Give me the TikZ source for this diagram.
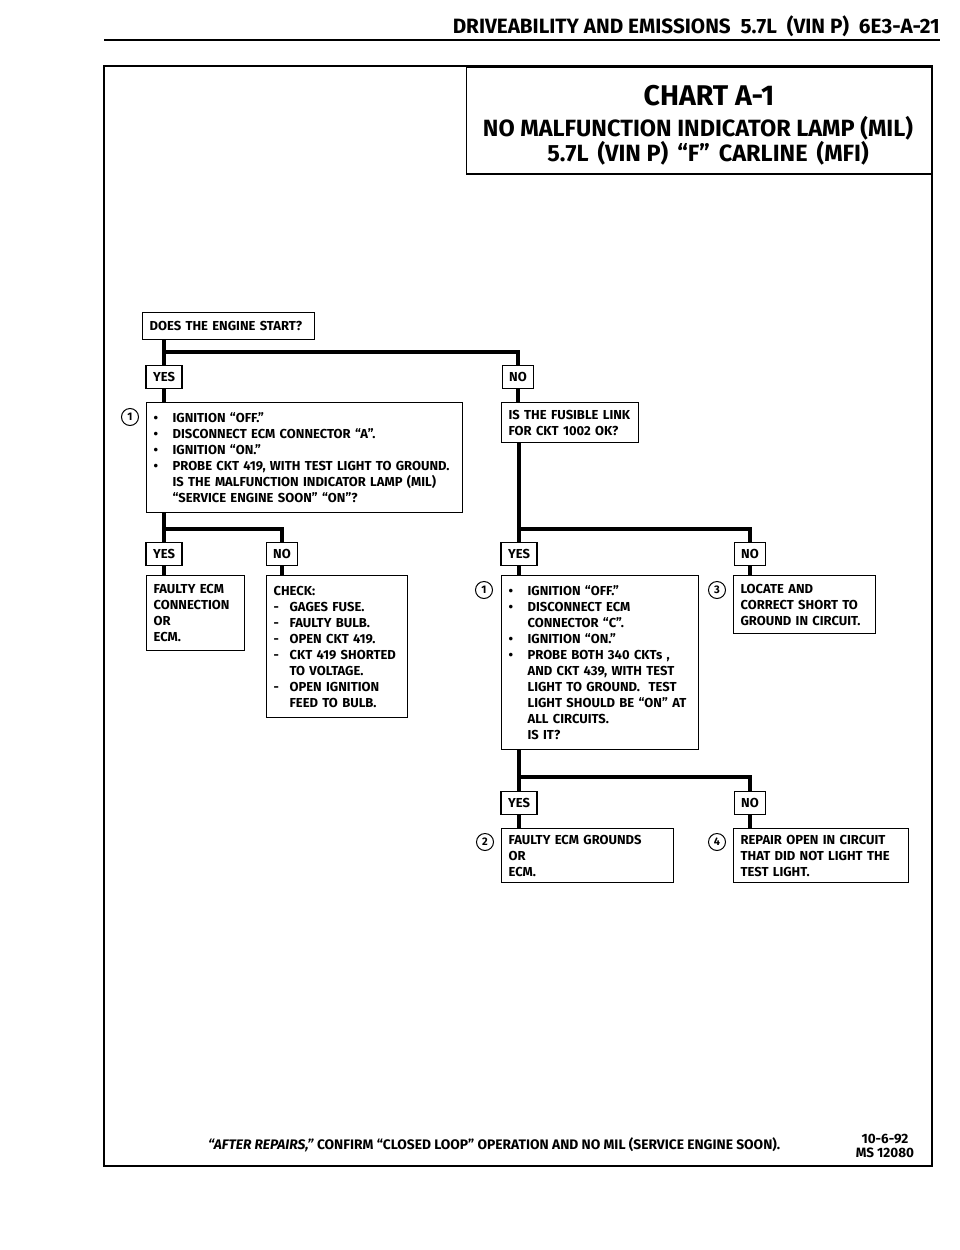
\documentclass[tikz,border=0pt]{standalone}
\usepackage{fontspec}
\setmainfont{Fira Sans}
\usetikzlibrary{positioning}

\newcommand{\bul}{\makebox[19pt][l]{\textbullet}}
\newcommand{\hang}{\hspace*{19pt}}
\newcommand{\dsh}{\makebox[16pt][l]{-}}
\newcommand{\hangd}{\hspace*{16pt}}

\begin{document}
\begin{tikzpicture}[x=1pt, y=-1pt,
        box/.style={draw, line width=1.2pt, anchor=north west, align=left, inner xsep=7pt, inner ysep=0pt, font=\fontsize{13}{16}\selectfont\bfseries},
        answer/.style={draw, line width=1.2pt, inner xsep=7pt, inner ysep=0pt, minimum height=23pt, font=\fontsize{13}{15}\selectfont\bfseries},
        num/.style={circle, draw, line width=1pt, minimum size=17pt, inner sep=0pt, font=\fontsize{11}{11}\selectfont\bfseries},
        flow/.style={line width=4pt, line join=miter}
    ]
        \useasboundingbox (0,0) rectangle (960,1250);

        % Header
        \node[anchor=base east, inner sep=0pt, font=\fontsize{20.7}{21}\selectfont\bfseries] (header) at (940,33) {DRIVEABILITY AND EMISSIONS\ \ 5.7L\ \ (VIN P)\ \ 6E3-A-21};
        \draw[line width=1.5pt] (104,40) -- (940,40);

        % Frame and title
        \draw[line width=2.5pt] (104,66) rectangle (932,1166);
        \node[draw, line width=1.5pt, anchor=north east, minimum width=465pt, minimum height=107pt] (titlebox) at (932,66) {};
        \node[anchor=base, inner sep=0pt, font=\fontsize{28.5}{29}\selectfont\bfseries] (chart) at (709,105) {CHART A-1};
        \node[anchor=base, inner sep=0pt, font=\fontsize{23.5}{24}\selectfont\bfseries] (lamp) at (698,136) {NO MALFUNCTION INDICATOR LAMP (MIL)};
        \node[anchor=base, inner sep=0pt, font=\fontsize{23.5}{24}\selectfont\bfseries] (carline) at (708,161) {5.7L\hspace{9pt}(VIN P)\hspace{9pt}“F”\hspace{9pt}CARLINE\hspace{9pt}(MFI)};

        % Start question
        \node[box, text width=158pt, minimum height=27pt] (start) at (142,312) {DOES THE ENGINE START?};
        \node[answer] (yes1) at (164,377) {YES};
        \node[answer] (no1) at (518,377) {NO};

        \node[box, text width=302pt, minimum height=110pt] (checkA) at (146,402) {\bul IGNITION “OFF.”\\
            \bul DISCONNECT ECM CONNECTOR “A”.\\
            \bul IGNITION “ON.”\\
            \bul PROBE CKT 419, WITH TEST LIGHT TO GROUND.\\
            \hang IS THE MALFUNCTION INDICATOR LAMP (MIL)\\
            \hang “SERVICE ENGINE SOON” “ON”?};
        \node[num] (n1a) at (130,417) {1};
        \node[box, text width=123pt, minimum height=40pt] (fusible) at (501,402) {IS THE FUSIBLE LINK\\FOR CKT 1002 OK?};

        % Second level, left
        \node[answer] (yes2) at (164,554) {YES};
        \node[answer] (no2) at (282,554) {NO};
        \node[box, text width=84pt, minimum height=75pt] (faultyecm) at (146,575) {FAULTY ECM\\CONNECTION\\OR\\ECM.};
        \node[box, text width=127pt, minimum height=142pt] (checklist) at (266,575) {CHECK:\\
            \dsh GAGES FUSE.\\
            \dsh FAULTY BULB.\\
            \dsh OPEN CKT 419.\\
            \dsh CKT 419 SHORTED\\
            \hangd TO VOLTAGE.\\
            \dsh OPEN IGNITION\\
            \hangd FEED TO BULB.};

        % Second level, right
        \node[answer] (yes3) at (519,554) {YES};
        \node[answer] (no3) at (750,554) {NO};
        \node[box, text width=183pt, minimum height=174pt] (checkC) at (501,575) {\bul IGNITION “OFF.”\\
            \bul DISCONNECT ECM\\
            \hang CONNECTOR “C”.\\
            \bul IGNITION “ON.”\\
            \bul PROBE BOTH 340 CKTs ,\\
            \hang AND CKT 439, WITH TEST\\
            \hang LIGHT TO GROUND.\ \ TEST\\
            \hang LIGHT SHOULD BE “ON” AT\\
            \hang ALL CIRCUITS.\\
            \hang IS IT?};
        \node[num] (n1b) at (484,590) {1};
        \node[box, text width=128pt, minimum height=58pt] (short) at (733,575) {LOCATE AND\\CORRECT SHORT TO\\GROUND IN CIRCUIT.};
        \node[num] (n3) at (717,590) {3};

        % Third level
        \node[answer] (yes4) at (519,803) {YES};
        \node[answer] (no4) at (750,803) {NO};
        \node[box, text width=158pt, minimum height=54pt] (grounds) at (501,828) {FAULTY ECM GROUNDS\\OR\\ECM.};
        \node[num] (n2) at (485,842) {2};
        \node[box, text width=161pt, minimum height=54pt] (repair) at (733,828) {REPAIR OPEN IN CIRCUIT\\THAT DID NOT LIGHT THE\\TEST LIGHT.};
        \node[num] (n4) at (717,842) {4};

        % Connections
        \coordinate (bar1) at (0,352);
        \coordinate (bar2) at (0,529);
        \coordinate (bar3) at (0,777);
        \draw[flow] (yes1.north |- start.south) -- (yes1.north);
        \draw[flow] (yes1.north |- bar1) -| (no1.north);
        \draw[flow] (yes1.south) -- (yes1.south |- checkA.north);
        \draw[flow] (no1.south) -- (no1.south |- fusible.north);

        \draw[flow] (yes2.north |- checkA.south) -- (yes2.north);
        \draw[flow] (yes2.north |- bar2) -| (no2.north);
        \draw[flow] (yes2.south) -- (yes2.south |- faultyecm.north);
        \draw[flow] (no2.south) -- (no2.south |- checklist.north);

        \draw[flow] (yes3.north |- fusible.south) -- (yes3.north);
        \draw[flow] (yes3.north |- bar2) -| (no3.north);
        \draw[flow] (yes3.south) -- (yes3.south |- checkC.north);
        \draw[flow] (no3.south) -- (no3.south |- short.north);

        \draw[flow] (yes4.north |- checkC.south) -- (yes4.north);
        \draw[flow] (yes4.north |- bar3) -| (no4.north);
        \draw[flow] (yes4.south) -- (yes4.south |- grounds.north);
        \draw[flow] (no4.south) -- (no4.south |- repair.north);

        % Footer
        \node[anchor=west, inner sep=0pt, font=\fontsize{13.8}{14}\selectfont\bfseries] (note) at (208,1145) {\textit{“AFTER REPAIRS,”} CONFIRM “CLOSED LOOP” OPERATION AND NO MIL (SERVICE ENGINE SOON).};
        \node[align=center, inner sep=0pt, font=\fontsize{13.5}{14}\selectfont\bfseries] (code) at (885,1146) {10-6-92\\MS 12080};
    \end{tikzpicture}
\end{document}
